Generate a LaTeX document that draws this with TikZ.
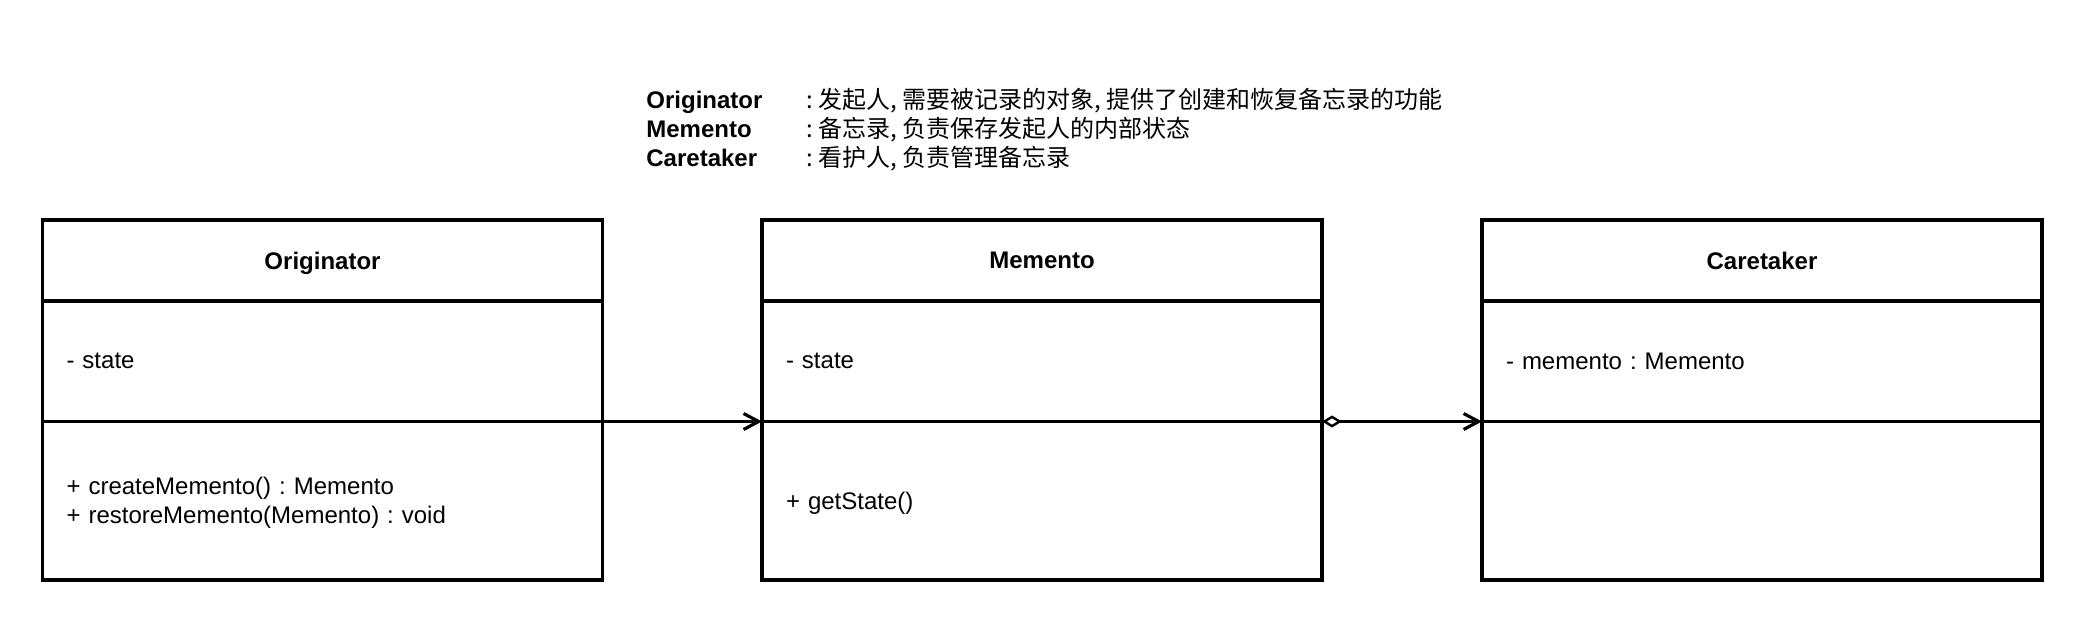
\documentclass[tikz,border=0pt]{standalone}
\usepackage{fontspec}
\setmainfont{Liberation Sans}
\newfontfamily\cjk{Noto Sans CJK SC}
\usetikzlibrary{arrows.meta}
\frenchspacing
\begin{document}
\begin{tikzpicture}[x=0.5pt,y=-0.5pt,
  comp/.style={draw, line width=1.6pt, outer sep=0pt, minimum width=280pt,
    text width=256pt, inner xsep=12pt, inner ysep=0pt, align=left,
    anchor=north west, font=\fontsize{12}{14.5}\selectfont},
  ttl/.style={comp, align=center, minimum height=40.5pt, text depth=0pt, font=\fontsize{12}{14.5}\selectfont\bfseries},
  attr/.style={comp, minimum height=60.25pt},
  meth/.style={comp, minimum height=79.25pt},
  lgd/.style={anchor=base west, inner sep=0pt, font=\fontsize{12}{14.5}\selectfont\bfseries},
  lgdtxt/.style={anchor=base west, inner sep=0pt, font=\fontsize{12}{14.5}\selectfont\cjk},
  conn/.style={line width=1.6pt}
]
\useasboundingbox (0,0) rectangle (2086,624);

% legend
\node[lgd] (l1) at (646,108.5) {Originator};
\node[lgd] (l2) at (646,137.5) {Memento};
\node[lgd] (l3) at (646,166.5) {Caretaker};
\node[lgdtxt] (t1) at (806,108.5) {: 发起人, 需要被记录的对象, 提供了创建和恢复备忘录的功能};
\node[lgdtxt] (t2) at (806,137.5) {: 备忘录, 负责保存发起人的内部状态};
\node[lgdtxt] (t3) at (806,166.5) {: 看护人, 负责管理备忘录};

% Originator
\node[ttl] (oT) at (42.5,220) {Originator};
\node[attr] (oA) at (oT.south west) {- state};
\node[meth, text depth=14.5pt] (oM) at (oA.south west) {+ createMemento() : Memento\\+ restoreMemento(Memento) : void};

% Memento
\node[ttl] (mT) at (762,220) {Memento};
\node[attr] (mA) at (mT.south west) {- state};
\node[meth, text depth=0pt] (mM) at (mA.south west) {+ getState()};

% Caretaker
\node[ttl] (cT) at (1482,220) {Caretaker};
\node[attr] (cA) at (cT.south west) {- memento : Memento};
\node[meth] (cM) at (cA.south west) {};

% connectors
\draw[conn, -{Straight Barb[length=7.5pt,width=8pt]}] (oA.south east) -- (mA.south west);
\draw[conn, {Diamond[length=10pt,width=6pt,fill=white,line width=1.2pt]}-{Straight Barb[length=7.5pt,width=8pt]}] (mA.south east) -- (cA.south west);
\end{tikzpicture}
\end{document}
